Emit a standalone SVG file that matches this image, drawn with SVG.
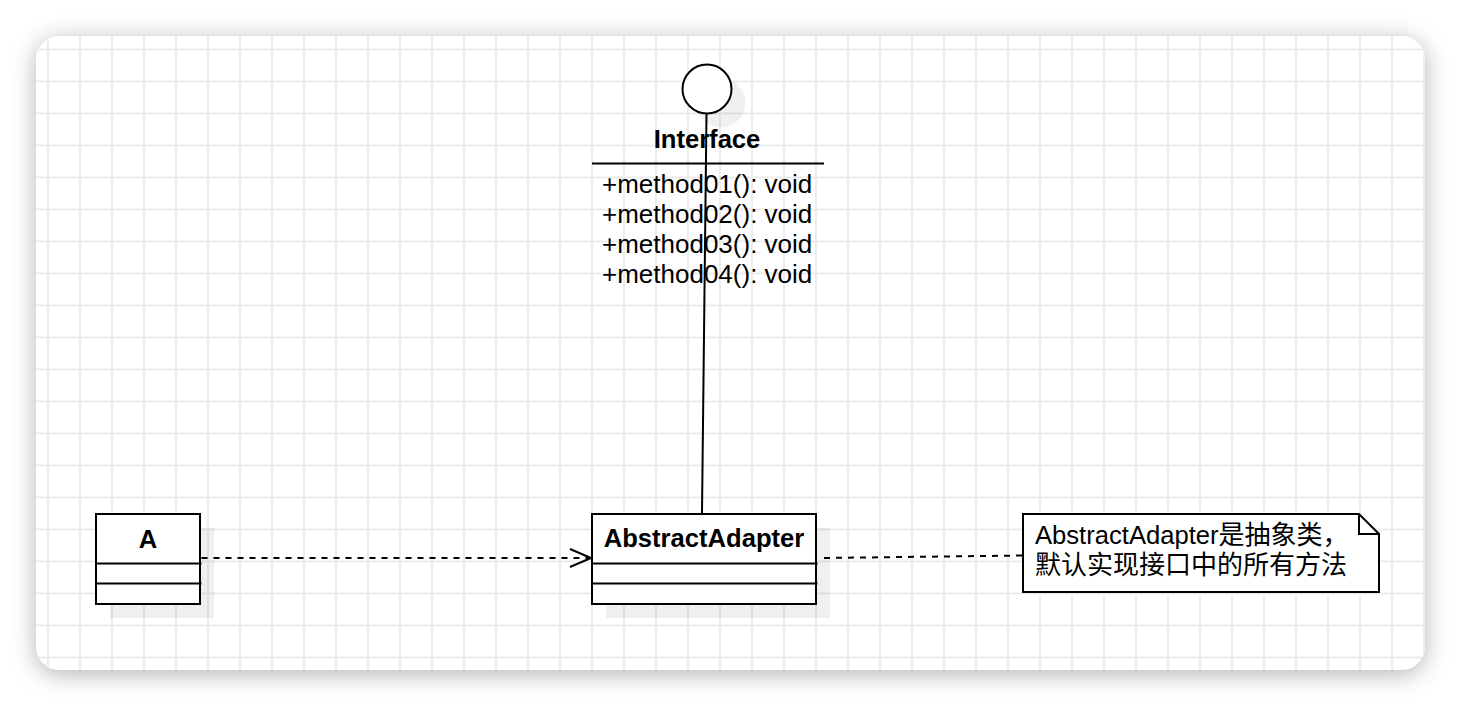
<svg xmlns="http://www.w3.org/2000/svg" width="1462" height="706" viewBox="0 0 1462 706">
<defs>
<style>
.txt{font-family:"Liberation Sans",Arial,"Noto Sans CJK SC",sans-serif;fill:#000;font-size:25.6px}
.m{font-size:26px}
.bold{font-weight:bold}
.cjk{font-family:"Noto Sans CJK SC","Liberation Sans",sans-serif;font-size:26px}
.box{fill:#fff;stroke:#000;stroke-width:2}
.shadow{fill:#000;fill-opacity:0.06}
.line{stroke:#000;stroke-width:2;fill:none}
.dash{stroke-dasharray:6 6}
</style>
<filter id="cardShadow" x="-10%" y="-20%" width="120%" height="140%">
<feDropShadow dx="0" dy="4" stdDeviation="12" flood-color="#000" flood-opacity="0.3"/>
</filter>
<pattern id="grid" patternUnits="userSpaceOnUse" x="47" y="48.5" width="32" height="32">
<rect width="2" height="32" fill="#ececec"/>
<rect width="32" height="2" fill="#ececec"/>
</pattern>
<marker id="open" markerUnits="userSpaceOnUse" viewBox="0 0 24 20" refX="22" refY="10" markerWidth="24" markerHeight="20" orient="auto">
<path d="M1,1 L22,10 L1,19" fill="none" stroke="#000" stroke-width="2"/>
</marker>
</defs>
<rect width="1462" height="706" fill="#fff"/>
<g id="card">
<rect x="36" y="36" width="1389" height="634" rx="24" fill="#fff" filter="url(#cardShadow)"/>
<rect x="36" y="36" width="1389" height="634" rx="24" fill="url(#grid)"/>
</g>
<g id="interface">
<circle cx="721" cy="103" r="24.5" class="shadow"/>
<circle cx="707" cy="89" r="24.5" class="box"/>
<text x="707" y="148" text-anchor="middle" class="txt bold">Interface</text>
<line x1="592" y1="163.5" x2="824" y2="163.5" class="line"/>
<text x="602" y="193.3" class="txt m">+method01(): void</text>
<text x="602" y="223.3" class="txt m">+method02(): void</text>
<text x="602" y="253.3" class="txt m">+method03(): void</text>
<text x="602" y="283.3" class="txt m">+method04(): void</text>
</g>
<g id="classA">
<rect x="110" y="528" width="104" height="90" class="shadow"/>
<rect x="96" y="514" width="104" height="90" class="box"/>
<line x1="96" y1="563.5" x2="201.5" y2="563.5" class="line"/>
<line x1="96" y1="583.5" x2="201.5" y2="583.5" class="line"/>
<text x="148" y="547.5" text-anchor="middle" class="txt bold">A</text>
</g>
<g id="abstractAdapter">
<rect x="606" y="528" width="224" height="90" class="shadow"/>
<rect x="592" y="514" width="224" height="90" class="box"/>
<line x1="592" y1="563.5" x2="817.5" y2="563.5" class="line"/>
<line x1="592" y1="583.5" x2="817.5" y2="583.5" class="line"/>
<text x="704" y="547" text-anchor="middle" class="txt bold">AbstractAdapter</text>
</g>
<g id="note">
<path d="M1023,514 H1359 L1379,534 V592 H1023 Z" class="box"/>
<path d="M1359,514 V534 H1379" class="line"/>
<text x="1035" y="543.5" class="txt">AbstractAdapter<tspan class="cjk">是抽象类，</tspan><tspan x="1035" y="574" class="cjk">默认实现接口中的所有方法</tspan></text>
</g>
<g id="connectors">
<line x1="706.5" y1="113.5" x2="702" y2="513" class="line"/>
<line x1="201.5" y1="558" x2="591" y2="558" class="line dash" marker-end="url(#open)"/>
<line x1="824" y1="558" x2="1023" y2="555.5" class="line dash"/>
</g>
</svg>
